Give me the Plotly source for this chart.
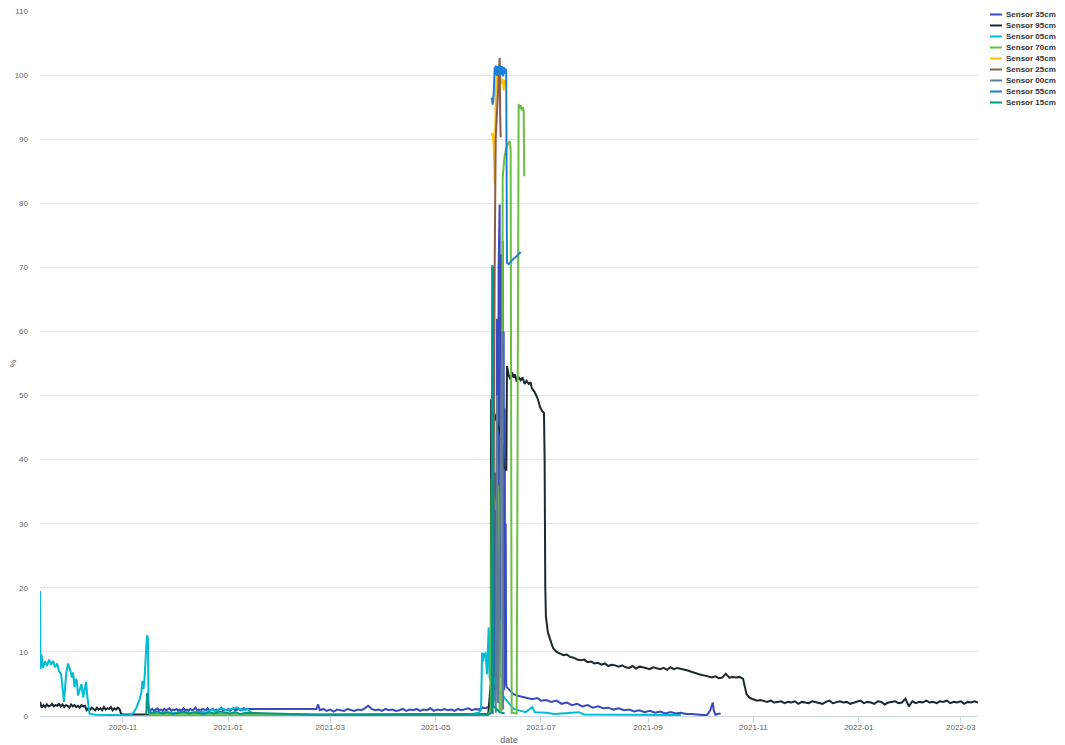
import pandas as pd
import plotly.graph_objects as go

# ---------------- data ----------------
# Sensor 95cm
s95_early_start = "2020-09-14"
s95_early_vals = [2.2, 1.3, 1.7, 1.4, 1.8, 1.5, 1.6, 1.9, 1.5, 1.7, 1.6, 1.9, 1.5, 1.8, 1.4, 1.7, 1.6, 1.3,
                  1.8, 1.5, 1.7, 1.4, 1.6, 1.3, 1.7, 1.5, 1.6,
                  0.9, 1.2, 1.0, 1.3, 1.1, 0.9, 1.3, 1.0, 1.2, 0.9, 1.4, 1.0, 1.2, 1.1, 1.4, 0.9, 1.2, 1.0,
                  1.3, 1.1, 0.3, 0.25]
s95_mid_dates = ["2020-11-16", "2021-01-12", "2021-02-21", "2021-05-31 12:00"]
s95_mid_vals = [0.25, 0.2, 0.2, 0.3]
s95_spike_dates = ["2021-06-01 22:00", "2021-06-02 04:00", "2021-06-02 14:00", "2021-06-03 15:00",
                   "2021-06-05 08:00", "2021-06-07 16:00", "2021-06-08 20:00", "2021-06-09 10:00",
                   "2021-06-10 23:00", "2021-06-11 08:00", "2021-06-12 07:00", "2021-06-13 11:00",
                   "2021-06-14 08:00", "2021-06-15 05:00", "2021-06-16 00:00", "2021-06-16 23:00",
                   "2021-06-18 00:00", "2021-06-19 06:00", "2021-06-20 08:00", "2021-06-21 14:00",
                   "2021-06-22 16:00", "2021-06-23 22:00", "2021-06-25 00:00", "2021-06-25 15:00",
                   "2021-06-27 10:00", "2021-06-29 04:00", "2021-06-30 08:00", "2021-07-01 14:00",
                   "2021-07-02 18:00", "2021-07-03 03:00", "2021-07-03 12:00", "2021-07-03 21:00",
                   "2021-07-05 01:00", "2021-07-06 19:00"]
s95_spike_vals = [5, 49.4, 48.5, 47.5, 46, 44, 42, 39, 38.3, 54.6, 53.2, 52.5, 53.6, 52.8, 53.3, 52.2,
                  52.9, 52.4, 52.8, 51.8, 52.3, 51.8, 52.1, 51.2, 50.5, 49.5, 48.3, 47.6, 47.3, 40, 20,
                  15.5, 13, 11.7]
s95_late_start = "2021-07-08"
s95_late_vals = [10.6, 10.0, 9.8, 9.5, 9.6, 9.2, 9.1, 8.8, 8.7, 8.8,
                 8.4, 8.5, 8.2, 8.3, 8.0, 8.2, 7.8, 8.0, 7.9, 7.7,
                 7.9, 7.6, 7.5, 7.8, 7.4, 7.7, 7.6, 7.5, 7.3, 7.6,
                 7.4, 7.3, 7.5, 7.2, 7.6, 7.3, 7.5, 7.4, 7.3, 7.1,
                 6.9, 6.7, 6.6, 6.4, 6.3, 6.2, 6.0, 6.2, 5.9, 6.0,
                 6.6, 6.0, 6.1, 6.0, 6.1, 5.8, 3.4, 2.8, 2.6, 2.4,
                 2.5, 2.3, 2.2, 2.4, 2.1, 2.2, 2.3, 2.0, 2.2, 2.1,
                 2.3, 1.9, 2.2, 2.1, 2.0, 2.3, 2.2, 2.1, 1.9, 2.2,
                 2.4, 2.0, 2.1, 2.3, 2.1, 2.2, 1.9, 2.1, 2.2, 2.4,
                 2.0, 2.2, 2.1, 1.9, 2.3, 2.2, 1.8, 2.1, 2.2, 2.3,
                 2.0, 2.1, 2.7, 1.5, 2.3, 2.0, 2.2, 2.1, 2.4, 2.1,
                 2.2, 2.0, 2.3, 2.2, 2.4, 2.0, 2.2, 2.1, 2.3, 1.9,
                 2.2, 2.1, 2.3, 2.1]

# Sensor 35cm
s35_a_start = "2020-11-16"
s35_a_vals = [1.2, 0.9, 1.1, 0.8, 1.0, 1.2, 0.9, 1.0, 0.8, 1.1, 0.9, 1.0, 1.2, 0.8, 1.0, 0.9, 1.1, 0.8,
              1.0, 0.9, 1.2, 0.9, 1.0, 0.8, 1.1, 0.9, 1.0, 1.3, 0.9, 1.0, 0.8, 1.1, 1.0, 0.9, 1.2, 0.9,
              1.0, 1.1, 0.8, 1.0, 0.9, 1.1, 1.3, 0.9, 1.0, 0.9, 1.1, 0.8, 1.0, 1.2, 0.9, 1.0, 1.1, 0.9,
              1.0, 1.2, 1.0, 1.1]
s35_b_dates = ["2021-02-21", "2021-02-22"]
s35_b_vals = [1.1, 1.8]
s35_c_start = "2021-02-23"
s35_c_vals = [0.9, 1.1, 0.8, 1.0, 0.7, 1.0, 0.9, 0.8, 1.1, 0.9, 0.8, 1.0, 0.9, 1.2, 1.6, 1.1, 0.9, 1.0,
              0.8, 1.1, 0.9, 1.0, 0.8, 0.9, 1.1, 0.8, 1.0, 0.9, 1.1, 0.8, 1.0, 0.9, 1.2, 0.8, 1.0, 0.9,
              1.1, 0.9, 1.0, 0.8, 1.1, 0.9, 1.0, 1.2, 0.9, 1.1, 1.0, 1.3, 1.2]
s35_d_dates = ["2021-05-31 17:00", "2021-06-01 21:00", "2021-06-03 01:00", "2021-06-03 15:00",
               "2021-06-04 05:00", "2021-06-04 12:00", "2021-06-04 19:00", "2021-06-05 02:00",
               "2021-06-05 14:00", "2021-06-05 22:00", "2021-06-06 12:00", "2021-06-07 02:00",
               "2021-06-07 09:00", "2021-06-07 16:00", "2021-06-08 00:00", "2021-06-08 06:00",
               "2021-06-08 13:00", "2021-06-08 20:00", "2021-06-09 03:00", "2021-06-09 10:00",
               "2021-06-09 17:00", "2021-06-10 00:00", "2021-06-10 07:00", "2021-06-10 14:00",
               "2021-06-10 21:00", "2021-06-11 04:00", "2021-06-12 07:00", "2021-06-13 11:00",
               "2021-06-15 00:00", "2021-06-17 00:00", "2021-06-20 00:00", "2021-06-23 00:00",
               "2021-06-26 00:00", "2021-06-29 00:00", "2021-07-01 00:00"]
s35_d_vals = [1.4, 1.6, 2.0, 2.5, 38, 4, 30, 6, 62, 8, 70, 79.8, 15, 66, 6, 72, 8, 74.2, 5, 60, 4, 48, 6,
              30, 5, 4.5, 4.2, 3.9, 3.4, 3.2, 3.0, 2.9, 2.6, 2.8, 2.4]
s35_e_start = "2021-07-04"
s35_e_vals = [2.5, 2.2, 2.4, 1.9, 2.1, 1.7, 1.9, 1.5, 1.7, 1.3, 1.5, 1.2, 1.3, 1.0, 1.2, 0.9, 1.0, 0.7,
              0.9, 0.6, 0.8, 0.5, 0.7, 0.4, 0.6, 0.4, 0.5, 0.3, 0.3, 0.2, 0.15]
s35_f_dates = ["2021-10-05", "2021-10-07", "2021-10-08 12:00", "2021-10-09", "2021-10-10",
               "2021-10-11", "2021-10-13"]
s35_f_vals = [0.1, 0.9, 2.1, 0.9, 0.2, 0.3, 0.4]

# Sensor 05cm
s05_early_dates = ["2020-09-14 00:00", "2020-09-14 07:00", "2020-09-14 21:00", "2020-09-15 17:00",
                   "2020-09-16 21:00", "2020-09-18 01:00", "2020-09-19 05:00", "2020-09-20 09:00",
                   "2020-09-21 13:00", "2020-09-22 17:00", "2020-09-23 21:00", "2020-09-25 01:00",
                   "2020-09-26 05:00", "2020-09-26 18:00", "2020-09-27 22:00", "2020-09-29 02:00",
                   "2020-09-30 06:00", "2020-10-01 10:00", "2020-10-02 13:00", "2020-10-03 03:00",
                   "2020-10-04 00:00", "2020-10-04 14:00", "2020-10-05 07:00", "2020-10-06 00:00",
                   "2020-10-08 00:00", "2020-10-09 00:00", "2020-10-10 16:00", "2020-10-11 11:00",
                   "2020-10-12 14:00", "2020-10-15 18:00", "2020-10-30 00:00", "2020-11-05 00:00",
                   "2020-11-07 02:00", "2020-11-08 20:00", "2020-11-10 14:00", "2020-11-11 17:00",
                   "2020-11-12 07:00", "2020-11-12 21:00", "2020-11-13 11:00", "2020-11-14 08:00",
                   "2020-11-14 22:00", "2020-11-15 11:00", "2020-11-15 20:00", "2020-11-16 10:00"]
s05_early_vals = [19.5, 7.3, 9.6, 7.5, 8.5, 7.8, 8.8, 8.0, 8.6, 7.6, 8.2, 7.0, 6.5, 5.0, 2.2, 6.5, 8.2,
                  7.2, 6.0, 6.8, 4.5, 5.8, 5.5, 3.2, 5.0, 2.9, 5.3, 2.9, 0.4, 0.2, 0.1, 0.1, 0.5, 1.3,
                  2.5, 3.8, 5.5, 4.2, 5.6, 9.0, 12.6, 12.2, 2.0, 0.5]
s05_mid_start = "2020-11-19"
s05_mid_vals = [0.5, 0.3, 0.6, 0.4, 0.5, 0.3, 0.6, 0.4, 0.5, 0.7, 0.5, 1.0, 0.8, 1.2, 0.9, 1.1, 1.3, 0.9,
                1.1, 0.3]
s05_mid2_dates = ["2021-02-21", "2021-05-20", "2021-05-26"]
s05_mid2_vals = [0.2, 0.2, 0.5]
s05_spike_dates = ["2021-05-27 08:00", "2021-05-27 22:00", "2021-05-28 12:00", "2021-05-29 01:00",
                   "2021-05-29 22:00", "2021-05-30 19:00", "2021-05-31 17:00", "2021-06-01 07:00",
                   "2021-06-01 21:00", "2021-06-03 01:00", "2021-06-04 19:00", "2021-06-06 12:00",
                   "2021-06-08 16:00", "2021-06-11 14:00", "2021-06-13 11:00", "2021-06-15 05:00",
                   "2021-06-19 06:00", "2021-06-22 04:00", "2021-06-26 00:00", "2021-06-27 10:00",
                   "2021-07-03 21:00", "2021-07-09 00:00", "2021-07-23 00:00", "2021-07-26 00:00",
                   "2021-09-20 00:00"]
s05_spike_vals = [1.0, 9.9, 8.5, 9.7, 9.8, 6.5, 13.8, 6.0, 5.5, 6.2, 5.0, 4.0, 3.2, 2.2, 1.6, 1.1, 0.8,
                  0.6, 1.4, 0.6, 0.5, 0.3, 0.6, 0.25, 0.15]

# Sensor 70cm
s70_low_dates = ["2020-11-16", "2020-12-15", "2021-01-12", "2021-02-21", "2021-04-15", "2021-05-31 12:00"]
s70_low_vals = [0.2, 0.15, 0.2, 0.15, 0.2, 0.2]
s70_spike_dates = ["2021-06-01 21:00", "2021-06-02 11:00", "2021-06-03 01:00", "2021-06-04 05:00",
                   "2021-06-05 08:00", "2021-06-05 22:00", "2021-06-06 12:00", "2021-06-07 02:00",
                   "2021-06-08 06:00", "2021-06-08 20:00", "2021-06-09 10:00", "2021-06-10 00:00",
                   "2021-06-10 14:00", "2021-06-11 18:00", "2021-06-12 21:00", "2021-06-13 11:00",
                   "2021-06-14 01:00", "2021-06-16 23:00", "2021-06-18 02:00", "2021-06-18 16:00",
                   "2021-06-19 06:00", "2021-06-19 20:00", "2021-06-20 10:00", "2021-06-21 00:00",
                   "2021-06-21 07:00"]
s70_spike_vals = [1.0, 37, 35, 33.5, 32, 36, 34, 1.0, 0.8, 84, 86.6, 87.5, 88.2, 89.2, 89.7, 88.5, 0.5,
                  0.4, 95.5, 94.8, 95.3, 94.5, 95.0, 94.6, 84.2]

# Sensor 45cm
s45_dates = ["2021-06-02 11:00", "2021-06-03 01:00", "2021-06-03 15:00", "2021-06-04 05:00",
             "2021-06-04 19:00", "2021-06-05 08:00", "2021-06-05 22:00", "2021-06-06 12:00",
             "2021-06-07 02:00", "2021-06-07 16:00", "2021-06-08 06:00", "2021-06-08 20:00",
             "2021-06-09 10:00", "2021-06-10 00:00", "2021-06-10 14:00"]
s45_vals = [90.5, 91, 89, 83, 97, 100, 98.8, 99.7, 98.5, 99.8, 98.6, 99.4, 97.6, 99.2, 98.5]

# Sensor 25cm
s25_dates = ["2021-06-03 01:00", "2021-06-03 15:00", "2021-06-04 05:00", "2021-06-04 19:00",
             "2021-06-05 08:00", "2021-06-05 22:00", "2021-06-06 12:00", "2021-06-07 02:00",
             "2021-06-07 09:00", "2021-06-07 16:00"]
s25_vals = [0.3, 53, 70, 90, 93, 97, 100, 102.7, 94, 90.3]

# Sensor 00cm
s00_dates = ["2021-06-04 19:00", "2021-06-05 14:00", "2021-06-06 02:00", "2021-06-08 13:00",
             "2021-06-09 03:00"]
s00_vals = [0.5, 50, 2, 60, 1]

# Sensor 55cm
s55_dates = ["2021-06-02 11:00", "2021-06-03 01:00", "2021-06-03 15:00", "2021-06-04 05:00",
             "2021-06-04 12:00", "2021-06-04 19:00", "2021-06-05 02:00", "2021-06-05 08:00",
             "2021-06-05 15:00", "2021-06-05 22:00", "2021-06-06 05:00", "2021-06-06 12:00",
             "2021-06-06 19:00", "2021-06-07 02:00", "2021-06-07 09:00", "2021-06-07 16:00",
             "2021-06-08 00:00", "2021-06-08 06:00", "2021-06-08 13:00", "2021-06-08 20:00",
             "2021-06-09 03:00", "2021-06-09 10:00", "2021-06-09 17:00", "2021-06-10 00:00",
             "2021-06-10 07:00", "2021-06-10 14:00", "2021-06-10 21:00", "2021-06-11 00:00",
             "2021-06-11 08:00", "2021-06-12 07:00", "2021-06-13 11:00", "2021-06-14 15:00",
             "2021-06-16 09:00", "2021-06-18 02:00", "2021-06-19 06:00"]
s55_vals = [96.5, 95.4, 96.9, 101.2, 100.0, 101.5, 100.2, 101.3, 99.9, 101.4, 100.4, 101.0, 100.1,
            101.5, 100.6, 101.2, 100.0, 101.4, 100.3, 101.0, 99.8, 101.3, 100.2, 101.1, 100.4, 101.0,
            100.6, 70.9, 70.7, 70.5, 70.9, 71.2, 71.6, 72.0, 72.4]

# Sensor 15cm
s15_a_dates = ["2020-11-14 12:00", "2020-11-15 00:00", "2020-11-16 00:00"]
s15_a_vals = [0.2, 3.6, 0.6]
s15_b_start = "2020-11-18"
s15_b_vals = [0.5, 0.7, 0.4, 0.6, 0.3, 0.5, 0.7, 0.4, 0.6, 0.5, 0.3, 0.6, 0.4, 0.7, 0.5, 0.4, 0.6, 0.3, 0.5]
s15_c_dates = ["2021-02-21", "2021-05-31 12:00", "2021-06-01 21:00", "2021-06-02 12:00",
               "2021-06-02 18:00", "2021-06-03 06:00", "2021-06-03 12:00", "2021-06-05 00:00",
               "2021-06-07 00:00", "2021-06-10 00:00"]
s15_c_vals = [0.2, 0.2, 0.5, 0.6, 70.3, 70.0, 1.5, 1.2, 0.6, 0.4]

series_names = ["Sensor 35cm", "Sensor 95cm", "Sensor 05cm", "Sensor 70cm", "Sensor 45cm",
                "Sensor 25cm", "Sensor 00cm", "Sensor 55cm", "Sensor 15cm"]
series_colors = ["#3A4BBF", "#1B2A31", "#00BCD4", "#6CBE45", "#FFC107",
                 "#8D5A4B", "#5F7D95", "#1A7FD8", "#009688"]


def reg(start, vals, freq):
    return list(pd.date_range(start, periods=len(vals), freq=freq))


def dts(lst):
    return list(pd.to_datetime(lst, format="ISO8601"))


x35 = reg(s35_a_start, s35_a_vals, "D") + dts(s35_b_dates) + reg(s35_c_start, s35_c_vals, "2D") \
    + dts(s35_d_dates) + reg(s35_e_start, s35_e_vals, "3D") + dts(s35_f_dates)
y35 = s35_a_vals + s35_b_vals + s35_c_vals + s35_d_vals + s35_e_vals + s35_f_vals

x95 = reg(s95_early_start, s95_early_vals, "D") + dts(s95_mid_dates) + dts(s95_spike_dates) \
    + reg(s95_late_start, s95_late_vals, "2D")
y95 = s95_early_vals + s95_mid_vals + s95_spike_vals + s95_late_vals

x05 = dts(s05_early_dates) + reg(s05_mid_start, s05_mid_vals, "3D") + dts(s05_mid2_dates) + dts(s05_spike_dates)
y05 = s05_early_vals + s05_mid_vals + s05_mid2_vals + s05_spike_vals

x70 = dts(s70_low_dates) + dts(s70_spike_dates)
y70 = s70_low_vals + s70_spike_vals

x15 = dts(s15_a_dates) + reg(s15_b_start, s15_b_vals, "3D") + dts(s15_c_dates)
y15 = s15_a_vals + s15_b_vals + s15_c_vals

all_x = [x35, x95, x05, x70, dts(s45_dates), dts(s25_dates), dts(s00_dates), dts(s55_dates), x15]
all_y = [y35, y95, y05, y70, s45_vals, s25_vals, s00_vals, s55_vals, y15]

fig = go.Figure()
for name, color, xs, ys in zip(series_names, series_colors, all_x, all_y):
    fig.add_trace(go.Scatter(x=xs, y=ys, name=name, mode="lines",
                             line=dict(color=color, width=2), showlegend=False))

FONT = "Liberation Sans, Arial, Helvetica, sans-serif"

# the page body adds an 8px offset; figure coordinates below are relative to the figure
L, R, T, B = 32, 87, 3, 29
W, H = 1057, 737
pw, ph = W - L - R, H - T - B

# compact legend (Highcharts-like spacing)
for i, (name, color) in enumerate(zip(series_names, series_colors)):
    ypx = 6.5 + 11 * i
    yp = (ph + T - ypx) / ph
    fig.add_shape(type="line", xref="paper", yref="paper",
                  x0=(982 - L) / pw, x1=(994 - L) / pw, y0=yp, y1=yp,
                  line=dict(color=color, width=2))
    fig.add_annotation(xref="paper", yref="paper", x=(996 - L) / pw, y=yp, text=name,
                       showarrow=False, xanchor="left", yanchor="middle",
                       font=dict(family=FONT, size=8, color="#333333", weight="bold"))

fig.update_layout(
    width=W, height=H,
    margin=dict(l=L, r=R, t=T, b=B, autoexpand=False),
    paper_bgcolor="white", plot_bgcolor="white",
    font=dict(family=FONT, size=8, color="#666666"),
    showlegend=False,
)
fig.update_xaxes(
    type="date", range=["2020-09-14", "2022-03-11"],
    tick0="2020-11-01", dtick="M2", tickformat="%Y-%m",
    showgrid=False, zeroline=False,
    showline=True, linecolor="#ccd6eb", linewidth=1,
    ticks="outside", tickcolor="#ccd6eb", ticklen=6,
    ticklabelstandoff=-3,
    tickfont=dict(size=8, color="#666666"),
    title=dict(text="date", font=dict(size=9, color="#666666"), standoff=6),
    automargin=False,
)
fig.update_yaxes(
    range=[0, 110], dtick=10,
    showgrid=True, gridcolor="#e6e6e6", gridwidth=1,
    zeroline=False, showline=False, ticks="",
    ticklabelstandoff=11, ticklabeloverflow="allow",
    tickfont=dict(size=8, color="#666666"),
    title=dict(text="%", font=dict(size=9, color="#666666"), standoff=1),
    automargin=False,
)

fig.write_html("out.html")
